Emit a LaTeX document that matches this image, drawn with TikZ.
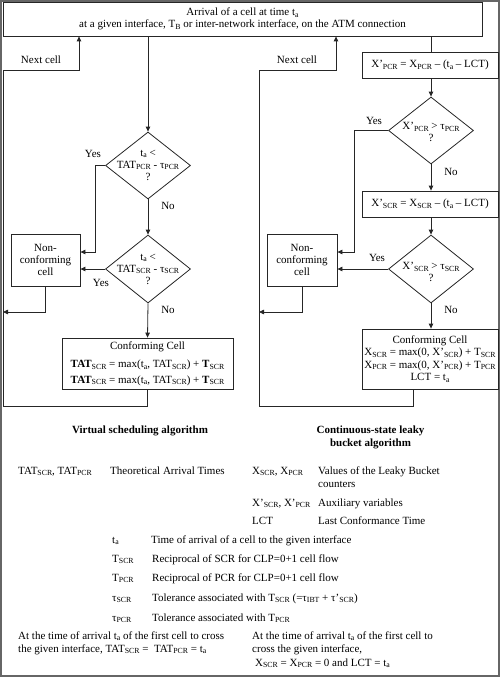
\documentclass[tikz,border=0pt]{standalone}
\usepackage{fontspec}
\setmainfont{Liberation Serif}
\usetikzlibrary{arrows.meta,shapes.geometric,calc}
\newcommand\sbs[1]{\raisebox{-0.35ex}{\fontsize{7.8}{8}\selectfont #1}}
\newcommand\ap{\char"0027\relax}
\begin{document}
\begin{tikzpicture}[x=1pt,y=-1pt, font=\fontsize{11}{12.5}\selectfont,
 box/.style={draw=black!85, line width=0.8pt, inner sep=0pt, align=center},
 dia/.style={draw=black!85, line width=0.8pt, diamond, inner sep=0pt, minimum width=85pt, minimum height=67pt},
 ln/.style={draw=black!85, line width=0.8pt},
 arr/.style={ln, -{Triangle[length=5pt,width=4.5pt]}},
 txt/.style={anchor=base west, inner sep=0pt},
 lab/.style={inner sep=0pt, align=center},
 hd/.style={inner sep=0pt, align=center, font=\fontsize{11}{13}\selectfont\bfseries}]
\useasboundingbox (0,0) rectangle (500,677);
\draw[black!60, line width=1.6pt] (0.8,0.8) rectangle (499.2,676.2);

% top box
\node[box, minimum width=479pt, minimum height=34pt] (top) at (242.5,19)
 {Arrival of a cell at time t\sbs{a}\\at a given interface, T\sbs{B} or inter-network interface, on the ATM connection};

% ---------- left: virtual scheduling ----------
\node[dia] (d1) at (148,165.5) {};
\node[lab, font=\fontsize{11}{12}\selectfont] (d1t) at (148,165) {t\sbs{a} <\\TAT\sbs{PCR} - τ\sbs{PCR}\\?};
\node[dia, minimum height=68pt] (d2) at (148,269) {};
\node[lab, font=\fontsize{11}{12}\selectfont] (d2t) at (148,269) {t\sbs{a} <\\TAT\sbs{SCR} - τ\sbs{SCR}\\?};
\node[box, minimum width=69pt, minimum height=52pt, font=\fontsize{11}{12}\selectfont] (nc1) at (45.5,260) {Non-\\conforming\\cell};
\node[box, minimum width=171pt, minimum height=51pt] (conf1) at (147.5,363.5)
 {Conforming Cell\\[6pt]\textbf{TAT}\sbs{SCR} = max(t\sbs{a}, TAT\sbs{SCR}) + \textbf{T}\sbs{SCR}\\[3pt]\textbf{TAT}\sbs{SCR} = max(t\sbs{a}, TAT\sbs{SCR}) + \textbf{T}\sbs{SCR}};

\node[lab] (y1) at (93,154) {Yes};
\node[lab] (n1) at (168,206) {No};
\node[lab] (y2) at (101,283) {Yes};
\node[lab] (n2) at (168,310) {No};
\node[lab] (nx1) at (41,60) {Next cell};

\coordinate (lL) at (3,312);
\coordinate (lb) at (3,406);
\coordinate (lt) at (3,70);
\coordinate (la) at (79,70);

\draw[arr] (d1.north |- top.south) -- (d1.north);
\draw[arr] (d1.south) -- (d2.north);
\draw[arr] (d1.west) -- ++(-10,0) |- ([yshift=8pt]nc1.east);
\draw[arr] (d2.west) -- (d2.west -| nc1.east);
\draw[arr] (nc1.south) |- (lL);
\draw[arr] (d2.south) -- (conf1.north);
\draw[arr] (conf1.south) |- (lb) -- (lt) -- (la) -- (la |- top.south);

% ---------- right: leaky bucket ----------
\node[box, minimum width=136pt, minimum height=26pt] (xp) at (430,65) {X\ap\sbs{PCR} = X\sbs{PCR} – (t\sbs{a} – LCT)};
\node[dia] (d3) at (431,130.5) {};
\node[lab, font=\fontsize{11}{12}\selectfont] (d3t) at (431,132) {X\ap\sbs{PCR} > τ\sbs{PCR}\\?};
\node[box, minimum width=136pt, minimum height=26pt] (xs) at (430,204) {X\ap\sbs{SCR} = X\sbs{SCR} – (t\sbs{a} – LCT)};
\node[dia, minimum height=68pt] (d4) at (431,269) {};
\node[lab, font=\fontsize{11}{12}\selectfont] (d4t) at (431,272) {X\ap\sbs{SCR} > τ\sbs{SCR}\\?};
\node[box, minimum width=70pt, minimum height=52pt, font=\fontsize{11}{12}\selectfont] (nc2) at (302,260) {Non-\\conforming\\cell};
\node[box, minimum width=136pt, minimum height=60pt] (conf2) at (430,359)
 {Conforming Cell\\X\sbs{SCR} = max(0, X\ap\sbs{SCR}) + T\sbs{SCR}\\X\sbs{PCR} = max(0, X\ap\sbs{PCR}) + T\sbs{PCR}\\LCT = t\sbs{a}};

\node[lab] (y3) at (374,121) {Yes};
\node[lab] (n3) at (451,172) {No};
\node[lab] (y4) at (377,258) {Yes};
\node[lab] (n4) at (451,310) {No};
\node[lab] (nx2) at (297,60) {Next cell};

\coordinate (rL) at (259,312);
\coordinate (rb) at (259,406);
\coordinate (rt) at (259,70);
\coordinate (ra) at (336,70);

\draw[ln] (d3.north |- top.south) -- (d3.north |- xp.north);
\draw[arr] (d3.north |- xp.south) -- (d3.north);
\draw[arr] (d3.south) -- (d3.south |- xs.north);
\draw[arr] (d4.north |- xs.south) -- (d4.north);
\draw[arr] (d3.west) -- ++(-34,0) |- ([yshift=8pt]nc2.east);
\draw[arr] (d4.west) -- (d4.west -| nc2.east);
\draw[arr] (nc2.south) |- (rL);
\draw[arr] (d4.south) -- (d4.south |- conf2.north);
\draw[arr] ([xshift=-17pt]conf2.south) |- (rb) -- (rt) -- (ra) -- (ra |- top.south);

% ---------- legend ----------
\node[hd] (h1) at (140,431) {Virtual scheduling algorithm};
\node[hd] (h2) at (370.5,437.5) {Continuous-state leaky\\bucket algorithm};

\node[txt] (a1) at (18,474) {TAT\sbs{SCR}, TAT\sbs{PCR}};
\node[txt] (a2) at (110,474) {Theoretical Arrival Times};
\node[txt] (b1) at (252,474) {X\sbs{SCR}, X\sbs{PCR}};
\node[txt] (b2) at (318,474) {Values of the Leaky Bucket};
\node[txt] (b3) at (318,487) {counters};
\node[txt] (c1) at (252,506) {X\ap\sbs{SCR}, X\ap\sbs{PCR}};
\node[txt] (c2) at (318,506) {Auxiliary variables};
\node[txt] (e1) at (252,524) {LCT};
\node[txt] (e2) at (318,524) {Last Conformance Time};
\node[txt] (f1) at (112,543) {t\sbs{a}};
\node[txt] (f2) at (151,543) {Time of arrival of a cell to the given interface};
\node[txt] (g1) at (112,562) {T\sbs{SCR}};
\node[txt] (g2) at (152,562) {Reciprocal of SCR for CLP=0+1 cell flow};
\node[txt] (k1) at (112,581) {T\sbs{PCR}};
\node[txt] (k2) at (152,581) {Reciprocal of PCR for CLP=0+1 cell flow};
\node[txt] (m1) at (112,601) {τ\sbs{SCR}};
\node[txt] (m2) at (152,601) {Tolerance associated with T\sbs{SCR} (=τ\sbs{IBT} + τ\ap\sbs{SCR})};
\node[txt] (p1) at (112,621) {τ\sbs{PCR}};
\node[txt] (p2) at (152,621) {Tolerance associated with T\sbs{PCR}};
\node[txt] (q1) at (18,639) {At the time of arrival t\sbs{a} of the first cell to cross};
\node[txt] (q2) at (18,652) {the given interface, TAT\sbs{SCR} =\ \ TAT\sbs{PCR} = t\sbs{a}};
\node[txt] (r1) at (252,639) {At the time of arrival t\sbs{a} of the first cell to};
\node[txt] (r2) at (252,652) {cross the given interface,};
\node[txt] (r3) at (255,666) {X\sbs{SCR} = X\sbs{PCR} = 0 and LCT = t\sbs{a}};
\end{tikzpicture}
\end{document}
